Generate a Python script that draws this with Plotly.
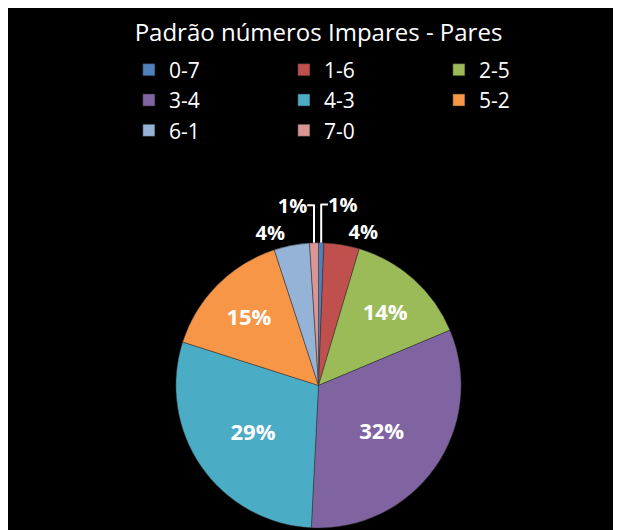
import plotly.graph_objects as go

labels = ["0-7", "1-6", "2-5", "3-4", "4-3", "5-2", "6-1", "7-0"]
values = [0.6, 4, 14, 32, 29, 15, 4, 1]
colors = ["#4F81BD", "#C0504D", "#9BBB59", "#8064A2", "#4BACC6", "#F79646", "#95B3D7", "#D99694"]

fig = go.Figure(go.Pie(
    labels=labels, values=values, sort=False, direction="clockwise", rotation=0,
    marker=dict(colors=colors, line=dict(color="#333333", width=0.5)),
    texttemplate="<b>%{percent:.0%}</b>", textposition="auto",
    insidetextfont=dict(color="white", size=22), outsidetextfont=dict(color="white", size=20),
    domain=dict(x=[0.05, 0.95], y=[0.0, 0.62]),
))
fig.update_layout(
    width=621, height=530, paper_bgcolor="black", plot_bgcolor="black",
    font=dict(family="Open Sans, Liberation Sans, sans-serif", color="white"),
    title=dict(text="Padrão números Impares - Pares", x=0.5, y=0.97, font=dict(size=24, color="white")),
    legend=dict(orientation="h", x=0.12, y=1.04, xanchor="left", yanchor="top",
                entrywidth=110, font=dict(size=21, color="white"), traceorder="normal"),
    margin=dict(l=10, r=10, t=60, b=10),
)
fig.write_html("out.html")
